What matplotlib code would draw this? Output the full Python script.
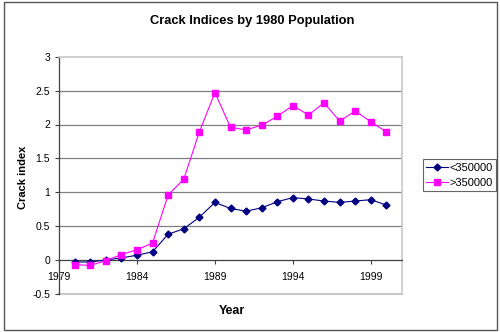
import matplotlib
matplotlib.use("Agg")
import matplotlib.pyplot as plt
import matplotlib.patches as patches

plt.rcParams['font.family'] = ['Liberation Sans', 'DejaVu Sans']

years = list(range(1980, 2001))
small_cities = [-0.03, -0.03, 0.00, 0.03, 0.07, 0.12, 0.38, 0.46, 0.63, 0.85,
                0.76, 0.72, 0.77, 0.86, 0.92, 0.90, 0.87, 0.85, 0.87, 0.89, 0.81]
large_cities = [-0.07, -0.08, -0.01, 0.08, 0.15, 0.25, 0.96, 1.19, 1.89, 2.47,
                1.96, 1.92, 1.99, 2.12, 2.28, 2.14, 2.32, 2.05, 2.20, 2.04, 1.89]
series_labels = ["<350000", ">350000"]
x_ticks = [1979, 1984, 1989, 1994, 1999]
y_ticks = [-0.5, 0, 0.5, 1, 1.5, 2, 2.5, 3]

fig = plt.figure(figsize=(5, 3.32), dpi=100)
ax = fig.add_axes([0.118, 0.115, 0.686, 0.714])

# outer frame of the chart
fig.patches.append(patches.Rectangle((0.008, 0.006), 0.986, 0.988, transform=fig.transFigure,
                                     fill=False, edgecolor='#555555', linewidth=1.0))

ax.plot(years, small_cities, color='#000080', marker='D', markersize=3.5, linewidth=0.8,
        label=series_labels[0], zorder=3)
ax.plot(years, large_cities, color='#ff00ff', marker='s', markersize=4, linewidth=0.8,
        label=series_labels[1], zorder=3)

ax.set_xlim(1979, 2001)
ax.set_ylim(-0.5, 3)
ax.set_xticks(x_ticks)
ax.set_yticks(y_ticks)
ax.set_yticklabels([f"{v:g}" for v in y_ticks])

# gridlines between the frame edges
for v in y_ticks[2:-1]:
    ax.axhline(v, color='#808080', linewidth=0.9, zorder=1)

ax.spines['bottom'].set_position(('data', 0))
ax.spines['bottom'].set_color('#404040')
ax.spines['bottom'].set_linewidth(0.9)
ax.spines['left'].set_color('#404040')
ax.spines['left'].set_linewidth(0.9)
for side in ('top', 'right'):
    ax.spines[side].set_color('#c8c8c8')
    ax.spines[side].set_linewidth(1.2)
ax.axhline(-0.5, color='#c8c8c8', linewidth=1.5, zorder=1, clip_on=False)

ax.tick_params(axis='both', labelsize=7.5, length=3, width=0.8, color='#404040', direction='out')
ax.tick_params(axis='x', pad=6)

fig.text(0.505, 0.937, "Crack Indices by 1980 Population", ha='center', va='center',
         fontsize=9.3, fontweight='bold')
fig.text(0.463, 0.063, "Year", ha='center', va='center', fontsize=9, fontweight='bold')
fig.text(0.046, 0.467, "Crack index", ha='center', va='center', rotation=90, fontsize=8,
         fontweight='bold')

leg = ax.legend(loc='center left', bbox_to_anchor=(1.061, 0.5), fontsize=8, frameon=True,
                fancybox=False, edgecolor='#404040', borderpad=0.3, handlelength=2.0,
                handletextpad=0.1, labelspacing=0.45, borderaxespad=0)
leg.get_frame().set_linewidth(0.8)

fig.savefig("out.png", dpi=100)
